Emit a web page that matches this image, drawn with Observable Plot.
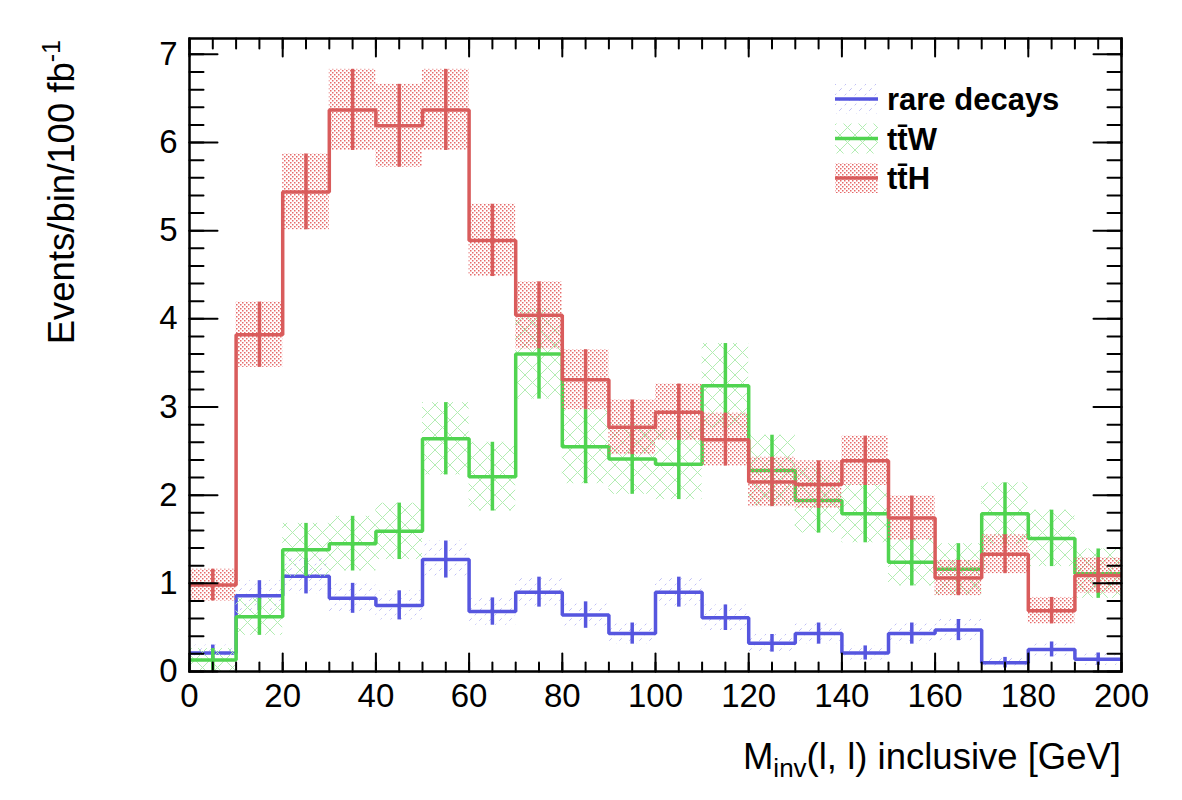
<!DOCTYPE html>
<html>
<head>
<meta charset="utf-8">
<script src="https://cdn.jsdelivr.net/npm/d3@7"></script>
<script src="https://cdn.jsdelivr.net/npm/@observablehq/plot@0.6"></script>
<style>
  body { margin: 0; background: #ffffff; }
  #chart svg { display: block; }
</style>
</head>
<body>
<div id="chart"></div>
<script>
// Bin edges of the dilepton invariant-mass histogram [GeV]
const binEdges = [0, 10, 20, 30, 40, 50, 60, 70, 80, 90, 100, 110, 120, 130, 140, 150, 160, 170, 180, 190, 200];

// Expected events per bin for 100 fb^-1, with their uncertainties
const rareDecays    = [0.21, 0.86, 1.08, 0.83, 0.75, 1.27, 0.68, 0.90, 0.64, 0.43, 0.90, 0.61, 0.32, 0.43, 0.21, 0.43, 0.47, 0.10, 0.25, 0.14];
const rareDecaysErr = [0.09, 0.17, 0.20, 0.17, 0.165, 0.21, 0.155, 0.17, 0.15, 0.12, 0.17, 0.145, 0.10, 0.12, 0.08, 0.12, 0.12, 0.06, 0.085, 0.07];

const ttW    = [0.13, 0.62, 1.38, 1.45, 1.59, 2.64, 2.21, 3.60, 2.55, 2.41, 2.35, 3.24, 2.28, 1.94, 1.79, 1.24, 1.16, 1.79, 1.51, 1.11];
const ttWErr = [0.13, 0.21, 0.30, 0.31, 0.32, 0.41, 0.39, 0.51, 0.42, 0.40, 0.40, 0.48, 0.40, 0.37, 0.33, 0.27, 0.29, 0.35, 0.32, 0.28];

const ttH    = [0.98, 3.82, 5.44, 6.37, 6.19, 6.37, 4.89, 4.04, 3.31, 2.77, 2.94, 2.63, 2.15, 2.12, 2.39, 1.74, 1.06, 1.33, 0.69, 1.09];
const ttHErr = [0.18, 0.37, 0.43, 0.46, 0.47, 0.46, 0.41, 0.38, 0.34, 0.31, 0.32, 0.30, 0.28, 0.27, 0.28, 0.25, 0.20, 0.22, 0.15, 0.20];

// Legend entries and axis tick labels
const seriesNames = ["rare decays", "tt\u0304W", "tt\u0304H"];
const xTickLabels = [0, 20, 40, 60, 80, 100, 120, 140, 160, 180, 200];
const yTickLabels = [0, 1, 2, 3, 4, 5, 6, 7];
const yMax = 7.18;

// Drawing styles (line colour + fill pattern of the uncertainty band)
const styles = [
  {color: "#5656df", pattern: "hatch-rare"},
  {color: "#50d450", pattern: "cross-ttw"},
  {color: "#d95c5c", pattern: "dots-tth"}
];

const series = [
  {values: rareDecays, errors: rareDecaysErr},
  {values: ttW, errors: ttWErr},
  {values: ttH, errors: ttHErr}
].map((s, k) => ({...s, ...styles[k], name: seriesNames[k]}));

function bins(s) {
  return s.values.map((v, i) => ({
    x0: binEdges[i], x1: binEdges[i + 1], xc: (binEdges[i] + binEdges[i + 1]) / 2,
    v, lo: v - s.errors[i], hi: v + s.errors[i]
  }));
}
function steps(s) {
  const pts = s.values.map((v, i) => ({x: binEdges[i], v}));
  pts.push({x: binEdges[binEdges.length - 1], v: s.values[s.values.length - 1]});
  return pts;
}

// Straight tick drawn from the anchor point; orientation set by rotate
const tickShape = {draw(context, l) { context.moveTo(0, 0); context.lineTo(0, -l); }};
const xMinor = d3.range(0, 201, 5);
const yMinor = d3.range(0, 7.01, 0.2).map(d => +d.toFixed(1));

function ticks(values, channel, anchor, rotate, length) {
  return Plot.vector(values, {
    [channel]: d => d, frameAnchor: anchor, rotate, length,
    anchor: "start", shape: tickShape, stroke: "black", strokeWidth: 2
  });
}

const marks = [];
for (const s of series) {
  marks.push(Plot.rectY(bins(s), {x1: "x0", x2: "x1", y1: "lo", y2: "hi", fill: `url(#${s.pattern})`}));
  marks.push(Plot.line(steps(s), {x: "x", y: "v", curve: "step-after", stroke: s.color, strokeWidth: 3.5, strokeLinejoin: "miter", strokeLinecap: "butt"}));
  marks.push(Plot.ruleX(bins(s), {x: "xc", y1: "lo", y2: "hi", stroke: s.color, strokeWidth: 3.5}));
}

marks.push(
  ticks(xMinor, "x", "bottom", 0, 9),
  ticks(xTickLabels, "x", "bottom", 0, 18),
  ticks(xMinor, "x", "top", 180, 10),
  ticks(xTickLabels, "x", "top", 180, 18),
  ticks(yMinor, "y", "left", 90, 14),
  ticks(yTickLabels, "y", "left", 90, 28),
  ticks(yMinor, "y", "right", -90, 14),
  ticks(yTickLabels, "y", "right", -90, 28),
  Plot.axisX(xTickLabels, {tickSize: 0, tickPadding: 12, label: null, fontSize: 33, tickFormat: d3.format("d")}),
  Plot.axisY(yTickLabels, {tickSize: 0, tickPadding: 12, label: null, fontSize: 33, tickFormat: d3.format("d")}),
  Plot.frame({stroke: "black", strokeWidth: 2.5})
);

const chart = Plot.plot({
  width: 1182,
  height: 800,
  marginLeft: 189,
  marginRight: 61,
  marginTop: 38,
  marginBottom: 129,
  x: {domain: [0, 200]},
  y: {domain: [0, yMax]},
  style: {fontFamily: "'Liberation Sans', Arial, Helvetica, sans-serif", fontSize: "33px", background: "white", color: "black"},
  marks
});

// Fill patterns for the uncertainty bands
const svg = d3.select(chart);
const defs = svg.insert("defs", ":first-child");
const pRare = defs.append("pattern").attr("id", "hatch-rare").attr("width", 10).attr("height", 10).attr("patternUnits", "userSpaceOnUse");
pRare.append("path").attr("d", "M0,10L10,0").attr("stroke", "#bfbff5").attr("stroke-width", 1).attr("stroke-dasharray", "2.5 4").attr("fill", "none");
const pTtw = defs.append("pattern").attr("id", "cross-ttw").attr("width", 15).attr("height", 15).attr("patternUnits", "userSpaceOnUse");
pTtw.append("path").attr("d", "M0,0L15,15M15,0L0,15").attr("stroke", "#b2edb2").attr("stroke-width", 1).attr("fill", "none");
const pTth = defs.append("pattern").attr("id", "dots-tth").attr("width", 4).attr("height", 4).attr("patternUnits", "userSpaceOnUse");
pTth.append("rect").attr("x", 0).attr("y", 0).attr("width", 1.5).attr("height", 1.5).attr("fill", "#e66a6a");
pTth.append("rect").attr("x", 2).attr("y", 2).attr("width", 1.5).attr("height", 1.5).attr("fill", "#e66a6a");

const font = "'Liberation Sans', Arial, Helvetica, sans-serif";

// Axis titles
const xTitle = svg.append("text").attr("x", 1121).attr("y", 769).attr("text-anchor", "end")
  .attr("font-family", font).attr("font-size", 36.5).attr("fill", "black");
xTitle.append("tspan").text("M");
xTitle.append("tspan").attr("font-size", 26).attr("dy", 8).text("inv");
xTitle.append("tspan").attr("dy", -8).text("(l, l) inclusive [GeV]");

const yTitle = svg.append("text").attr("transform", "translate(74,40) rotate(-90)").attr("text-anchor", "end")
  .attr("font-family", font).attr("font-size", 36.5).attr("fill", "black");
yTitle.append("tspan").text("Events/bin/100 fb");
yTitle.append("tspan").attr("font-size", 25).attr("dy", -14).text("-1");

// Legend
const legend = svg.append("g").attr("font-family", font).attr("text-anchor", "start");
series.forEach((s, k) => {
  const cy = 99 + k * 39.5;
  legend.append("rect").attr("x", 835).attr("y", cy - 15).attr("width", 43).attr("height", 30).attr("fill", `url(#${s.pattern})`);
  legend.append("line").attr("x1", 835).attr("x2", 878).attr("y1", cy).attr("y2", cy).attr("stroke", s.color).attr("stroke-width", 3.5);
  legend.append("text").attr("x", 887).attr("y", cy).attr("dy", "0.36em").attr("font-size", 31).attr("font-weight", "bold")
    .attr("text-anchor", "start").attr("fill", "black").text(s.name);
});

document.getElementById("chart").appendChild(chart);
</script>
</body>
</html>
